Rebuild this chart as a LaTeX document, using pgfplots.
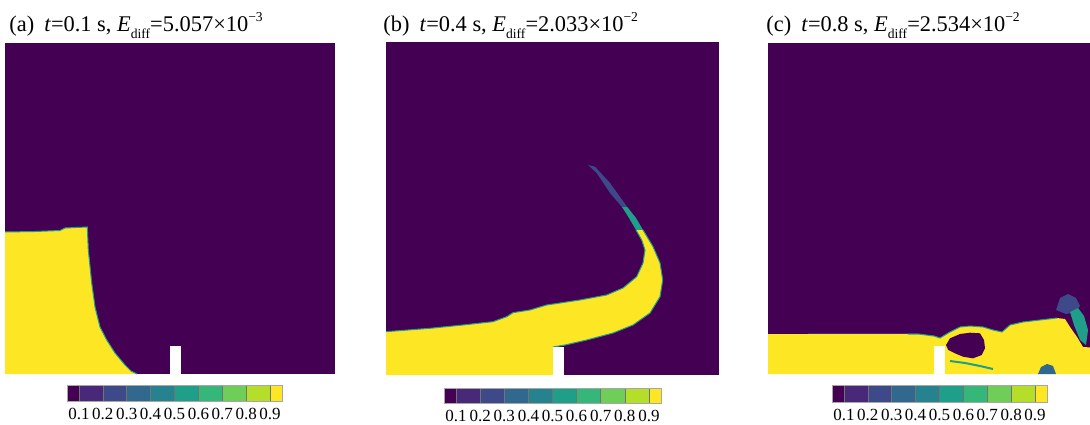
\documentclass[border=0pt]{standalone}
\usepackage{pgfplots}
\pgfplotsset{compat=1.18}
\usepackage{fontspec}
\setmainfont{Liberation Serif}
\definecolor{v0}{RGB}{68,1,84}
\definecolor{v1}{RGB}{72,40,120}
\definecolor{v2}{RGB}{62,73,137}
\definecolor{v3}{RGB}{49,104,142}
\definecolor{v4}{RGB}{38,130,142}
\definecolor{v5}{RGB}{31,158,137}
\definecolor{v6}{RGB}{53,183,121}
\definecolor{v7}{RGB}{110,206,88}
\definecolor{v8}{RGB}{181,222,43}
\definecolor{v9}{RGB}{253,231,37}
\newcommand{\sub}[1]{\raisebox{-0.32em}{\fontsize{6.8}{7}\selectfont #1}}
\newcommand{\sups}[1]{\raisebox{0.42em}{\fontsize{6.8}{7}\selectfont #1}}
\newcommand{\cbsegs}{%
\addplot[fill=v0,draw=black!55,line width=0.3pt] coordinates {(0.05,0)(0.1,0)(0.1,1)(0.05,1)} -- cycle;
\addplot[fill=v1,draw=black!55,line width=0.3pt] coordinates {(0.1,0)(0.2,0)(0.2,1)(0.1,1)} -- cycle;
\addplot[fill=v2,draw=black!55,line width=0.3pt] coordinates {(0.2,0)(0.3,0)(0.3,1)(0.2,1)} -- cycle;
\addplot[fill=v3,draw=black!55,line width=0.3pt] coordinates {(0.3,0)(0.4,0)(0.4,1)(0.3,1)} -- cycle;
\addplot[fill=v4,draw=black!55,line width=0.3pt] coordinates {(0.4,0)(0.5,0)(0.5,1)(0.4,1)} -- cycle;
\addplot[fill=v5,draw=black!55,line width=0.3pt] coordinates {(0.5,0)(0.6,0)(0.6,1)(0.5,1)} -- cycle;
\addplot[fill=v6,draw=black!55,line width=0.3pt] coordinates {(0.6,0)(0.7,0)(0.7,1)(0.6,1)} -- cycle;
\addplot[fill=v7,draw=black!55,line width=0.3pt] coordinates {(0.7,0)(0.8,0)(0.8,1)(0.7,1)} -- cycle;
\addplot[fill=v8,draw=black!55,line width=0.3pt] coordinates {(0.8,0)(0.9,0)(0.9,1)(0.8,1)} -- cycle;
\addplot[fill=v9,draw=black!55,line width=0.3pt] coordinates {(0.9,0)(0.95,0)(0.95,1)(0.9,1)} -- cycle;
}
\pgfplotsset{
  field/.style={anchor=south west, scale only axis, hide axis, xmin=0, ymin=0},
  cbar/.style={anchor=south west, scale only axis, xmin=0.05, xmax=0.95, ymin=0, ymax=1,
    ytick=\empty, xtick={0.1,0.2,0.3,0.4,0.5,0.6,0.7,0.8,0.9},
    xticklabels={0.1,0.2,0.3,0.4,0.5,0.6,0.7,0.8,0.9},
    major tick length=0pt, axis line style={draw=gray!70, line width=0.4pt}, axis on top,
    xticklabel style={font=\rmfamily\fontsize{8.5}{9}\selectfont, inner sep=1pt, yshift=-2.3pt}},
}
\begin{document}
\begin{tikzpicture}
\useasboundingbox (0,0) rectangle (545pt,212pt);
% ---------- panel (a) ----------
\begin{axis}[field, at={(2.5pt,25pt)}, width=165pt, height=165.5pt, xmax=330, ymax=331]
\addplot[fill=v0, draw=none] coordinates {(0,0)(330,0)(330,331)(0,331)} -- cycle;
\addplot[fill=v9, draw=none] coordinates {(0,0)(0,142)(30,142.5)(55,143.5)(60,146)(82.3,147)(83.3,124)(86.7,91)(90,67)(95,47)(101.7,34)(110,21)(120,9)(126,3)(132,0)} -- cycle;
\addplot[v5, line width=0.5pt] coordinates {(0,142)(30,142.5)(55,143.5)(60,146)(82.3,147)(83.3,124)(86.7,91)(90,67)(95,47)(101.7,34)(110,21)(120,9)(126,3)(132,0)};
\addplot[fill=white, draw=none] coordinates {(165,0)(176,0)(176,28)(165,28)} -- cycle;
\end{axis}
\begin{axis}[cbar, at={(33.5pt,11.5pt)}, width=107.5pt, height=8pt]
\cbsegs
\end{axis}
% ---------- panel (b) ----------
\begin{axis}[field, at={(193pt,24.5pt)}, width=166.5pt, height=166.5pt, xmax=333, ymax=333]
\addplot[fill=v0, draw=none] coordinates {(0,0)(333,0)(333,333)(0,333)} -- cycle;
\addplot[fill=v9, draw=none] coordinates {(0,0)(0,43.3)(44,46.7)(77,50)(107,53.3)(120.7,58.3)(127,62.3)(144,65)(160.7,70)(194,75)(220.7,80)(237,87)(250.7,98.3)(257,112)(259,125)(255.7,135)(250,145)(257,145)(267,128.3)(274,112)(276.7,95)(274,78.3)(264,62)(247,50)(227,42)(200.7,35)(179,30)(167,28)(167,0)} -- cycle;
\addplot[v5, line width=0.5pt] coordinates {(0,43.3)(44,46.7)(77,50)(107,53.3)(120.7,58.3)(127,62.3)(144,65)(160.7,70)(194,75)(220.7,80)(237,87)(250.7,98.3)(257,112)(259,125)(255.7,135)(250,145)};
\addplot[v5, line width=0.5pt] coordinates {(257,145)(267,128.3)(274,112)(276.7,95)(274,78.3)(264,62)(247,50)(227,42)(200.7,35)(179,30)(167,28)};
\addplot[fill=v5, draw=none] coordinates {(250,145)(243,157)(236,168)(241,168.3)(250,157)(257,145)} -- cycle;
\addplot[fill=v2, draw=none] coordinates {(236,168)(224,182)(210.7,202)(202,210)(209,208.3)(224,192)(241,168.3)} -- cycle;
\addplot[fill=white, draw=none] coordinates {(167,0)(178,0)(178,28)(167,28)} -- cycle;
\end{axis}
\begin{axis}[cbar, at={(222pt,10.5pt)}, width=108.5pt, height=7.5pt]
\cbsegs
\end{axis}
% ---------- panel (c) ----------
\begin{axis}[field, at={(384pt,25pt)}, width=166pt, height=165.5pt, xmax=332, ymax=331]
\addplot[fill=v0, draw=none] coordinates {(0,0)(332,0)(332,331)(0,331)} -- cycle;
\addplot[fill=v9, draw=none] coordinates {(0,0)(0,40)(150,40)(166,38)(172,36)(182,42)(192,47)(202,48)(215,47)(225,44)(234,42)(242,49)(255,52)(272,54)(289,56)(297,55)(302,47)(309,37)(315,27)(332,26)(332,0)} -- cycle;
\addplot[v1, line width=0.5pt] coordinates {(40,40.5)(150,40.5)};
\addplot[v5, line width=0.5pt] coordinates {(140,40)(150,40)(166,38)(172,36)(182,42)(192,47)(202,48)(215,47)(225,44)(234,42)(242,49)(255,52)(272,54)(289,56)};
\addplot[fill=v0, draw=none] coordinates {(178,29)(182,35.7)(192,40)(202,41.3)(212,40.7)(216,34)(217,25.7)(213.7,19)(205,15.7)(195,17.3)(187,20.7)(180.3,24)} -- cycle;
\addplot[v5, line width=1pt] coordinates {(182,13)(197,11)(212,8)(225,5)};
\addplot[fill=v3, draw=none] coordinates {(270,0)(273,7)(279,10)(285,8)(288,0)} -- cycle;
\addplot[fill=v2, draw=none] coordinates {(288,64)(292,76)(300,80)(308,76)(312,68)(307,62)(298,60)} -- cycle;
\addplot[fill=v5, draw=none] coordinates {(302,62)(310,66)(316,58)(320,44)(318,29)(312,34)(306,49)} -- cycle;
\addplot[fill=white, draw=none] coordinates {(166,0)(177,0)(177,28)(166,28)} -- cycle;
\end{axis}
\begin{axis}[cbar, at={(416pt,11pt)}, width=107.5pt, height=8.5pt]
\cbsegs
\end{axis}
% ---------- titles ----------
\node[anchor=base west, inner sep=0pt, font=\fontsize{11.2}{13}\selectfont] at (4.5pt,196.5pt) {(a)\hspace{0.45em}\textit{t}=0.1 s, \textit{E}\sub{diff}=5.057×10\sups{−3}};
\node[anchor=base west, inner sep=0pt, font=\fontsize{11.2}{13}\selectfont] at (191.5pt,196.5pt) {(b)\hspace{0.45em}\textit{t}=0.4 s, \textit{E}\sub{diff}=2.033×10\sups{−2}};
\node[anchor=base west, inner sep=0pt, font=\fontsize{11.2}{13}\selectfont] at (383pt,196.5pt) {(c)\hspace{0.45em}\textit{t}=0.8 s, \textit{E}\sub{diff}=2.534×10\sups{−2}};
\end{tikzpicture}
\end{document}
